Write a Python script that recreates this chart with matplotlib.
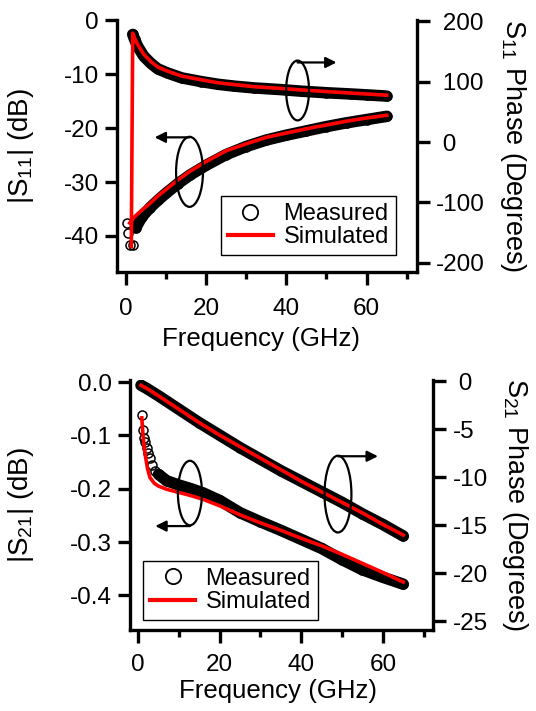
import numpy as np
import matplotlib
matplotlib.use("Agg")
import matplotlib.pyplot as plt
from matplotlib.patches import Ellipse
from matplotlib.lines import Line2D
from matplotlib.ticker import MultipleLocator, FuncFormatter

plt.rcParams["font.family"] = "Liberation Sans"
plt.rcParams["mathtext.fontset"] = "custom"
plt.rcParams["mathtext.rm"] = "Liberation Sans"
plt.rcParams["mathtext.it"] = "Liberation Sans:italic"
plt.rcParams["axes.unicode_minus"] = False
plt.rcParams["font.size"] = 17

# ---- S11 (top panel) ----
s11_mag_meas_f = [0.25, 0.5, 1.0, 1.75, 2.5, 4, 6, 8, 10, 13, 16, 20, 25, 30, 35, 40, 45, 50, 55, 60, 65]
s11_mag_meas = [-37.6, -39.5, -41.7, -41.7, -38.5, -36.5, -34.8, -33.4, -32.1, -30.3, -28.7, -26.9,
                -24.9, -23.4, -22.2, -21.3, -20.5, -19.7, -19.0, -18.4, -17.8]
s11_mag_sim_f = [1, 2, 4, 6, 8, 10, 13, 16, 20, 25, 30, 35, 40, 45, 50, 55, 60, 65]
s11_mag_sim = [-37.6, -36.6, -35.2, -34.0, -32.6, -31.4, -29.6, -28.0, -26.2, -24.2, -22.9, -21.7,
               -20.9, -20.1, -19.4, -18.7, -18.1, -17.6]

s11_ph_meas_f = [1.75, 2.2, 3, 4.5, 6.3, 8, 10.5, 14, 18.8, 23, 27, 32, 38, 44, 50, 56, 60, 65]
s11_ph_meas = [178, 170, 158, 142, 130, 121, 114, 106, 100, 95.5, 92.5, 89.5, 87, 84, 81.5, 79.5, 78, 76]
s11_ph_sim_f = [1.4, 1.75, 2.2, 3, 4.5, 6.3, 8, 10.5, 14, 18.8, 23, 27, 32, 38, 44, 50, 56, 60, 65]
s11_ph_sim = [-173, 180, 172, 161, 145, 133, 124, 117, 109, 103, 98, 95, 91.5, 89, 86, 83.5, 81, 79.5, 77.5]

# ---- S21 (bottom panel) ----
s21_mag_meas_f = [0.9, 1.3, 1.4, 1.6, 2.1, 2.5, 2.9, 3.5, 4.2, 5, 7, 10, 13, 16, 20, 25, 30, 35,
                  40, 45, 50, 55, 60, 65]
s21_mag_meas = [-0.061, -0.089, -0.104, -0.113, -0.123, -0.133, -0.142, -0.155, -0.166, -0.173,
                -0.185, -0.193, -0.200, -0.208, -0.222, -0.245, -0.262, -0.278, -0.295, -0.312,
                -0.333, -0.352, -0.366, -0.379]
s21_mag_sim_f = [0.9, 1.2, 1.7, 2.3, 2.9, 4, 5, 7, 10, 13, 16, 20, 25, 30, 35, 40, 45, 50, 55, 60, 65]
s21_mag_sim = [-0.067, -0.100, -0.135, -0.162, -0.179, -0.190, -0.195, -0.201, -0.207, -0.213,
               -0.220, -0.232, -0.249, -0.264, -0.278, -0.293, -0.307, -0.323, -0.340, -0.357, -0.375]

s21_ph_meas_f = [0.7, 2, 5, 10, 15, 20, 25, 30, 35, 40, 45, 50, 55, 60, 65]
s21_ph_meas = [-0.4, -0.7, -1.5, -2.9, -4.3, -5.6, -6.9, -8.1, -9.3, -10.4, -11.5, -12.6, -13.8, -14.9, -16.1]
s21_ph_sim_f = [0.7, 2, 5, 10, 15, 20, 25, 30, 35, 40, 45, 50, 55, 60, 65]
s21_ph_sim = [-0.4, -0.7, -1.5, -2.9, -4.3, -5.6, -6.8, -8.0, -9.2, -10.4, -11.5, -12.6, -13.7, -14.9, -16.0]

RED = "#ff0000"


def draw_meas(ax, f, y, f_band):
    f = np.asarray(f)
    y = np.asarray(y)
    band = f >= f_band
    ax.plot(f[band], y[band], "-", color="k", lw=8.3, solid_capstyle="round",
            solid_joinstyle="round", zorder=2)
    ax.plot(f, y, "o", mfc="none", mec="k", mew=1.1, ms=6.5, zorder=2)


def draw_sim(ax, f, y):
    ax.plot(f, y, "-", color=RED, lw=2.6, zorder=3)


def right_fmt(v, p):
    # igor-style: minus sign hangs left of the digits
    s = f"{v:g}"
    return s if s.startswith("-") else " " + s


def style(ax, ax2, xpad):
    for a in (ax, ax2):
        a.spines["top"].set_visible(False)
        for s in a.spines.values():
            s.set_linewidth(2.4)
        a.tick_params(which="major", direction="out", length=9, width=2.4, labelsize=17.5, pad=4)
        a.tick_params(which="minor", direction="out", length=5, width=2.4)
    ax.tick_params(axis="x", which="major", pad=xpad)
    ax2.tick_params(axis="y", which="major", pad=5)
    ax.spines["right"].set_visible(False)
    ax2.spines["left"].set_visible(False)
    ax2.spines["bottom"].set_visible(False)
    ax.xaxis.set_major_locator(MultipleLocator(20))
    ax.xaxis.set_minor_locator(MultipleLocator(10))
    ax2.yaxis.set_major_formatter(FuncFormatter(right_fmt))


def loop(ax, host, cx, cy, w, h, y_arrow, x_end):
    ax.add_patch(Ellipse((cx, cy), w, h, fill=False, lw=1.6, ec="k",
                         transform=host.transData, zorder=5))
    ax.annotate("", xy=(x_end, y_arrow), xytext=(cx, y_arrow), xycoords=host.transData,
                textcoords=host.transData,
                arrowprops=dict(arrowstyle="-|>", lw=1.6, color="k", mutation_scale=16,
                                shrinkA=0, shrinkB=0), zorder=5)


def legend(ax, x0, y0):
    handles = [Line2D([], [], ls="none", marker="o", mfc="white", mec="k", mew=1.3, ms=11),
               Line2D([], [], color=RED, lw=3)]
    leg = ax.legend(handles, ["Measured", "Simulated"], loc="lower left",
                    bbox_to_anchor=(x0, y0), borderaxespad=0, fancybox=False,
                    edgecolor="k", framealpha=1, fontsize=17, handlelength=1.9,
                    handletextpad=0.45, labelspacing=0.05, borderpad=0.3)
    leg.get_frame().set_linewidth(1.0)
    leg.set_zorder(6)


fig = plt.figure(figsize=(5.36, 7.11), dpi=100)

# top panel
ax1 = fig.add_axes([0.218, 0.6174, 0.5597, 0.3546])
ax1b = ax1.twinx()
draw_meas(ax1, s11_mag_meas_f, s11_mag_meas, 2.0)
draw_sim(ax1, s11_mag_sim_f, s11_mag_sim)
draw_meas(ax1b, s11_ph_meas_f, s11_ph_meas, 0)
draw_sim(ax1b, s11_ph_sim_f, s11_ph_sim)
ax1.set_xlim(-2.2, 72.5)
ax1.set_ylim(-46.7, 0.1)
ax1b.set_ylim(-215, 202)
ax1.yaxis.set_major_locator(MultipleLocator(10))
ax1b.yaxis.set_major_locator(MultipleLocator(100))
style(ax1, ax1b, 10)
ax1.set_ylabel(r"|S$_{11}$| (dB)", fontsize=20)
ax1b.set_ylabel(r"S$_{11}$ Phase (Degrees)", fontsize=19.5, rotation=270, va="center", ha="center")
ax1.set_xlabel("Frequency (GHz)", fontsize=18.6, va="top")
ax1.yaxis.set_label_coords(-0.27, 0.5)
ax1b.yaxis.set_label_coords(1.32, 0.5)
ax1.xaxis.set_label_coords(0.48, -0.218)
loop(ax1b, ax1, 15.9, -28.1, 6.7, 13.0, -21.7, 7.2)
loop(ax1b, ax1, 42.8, -13.0, 5.7, 11.1, -7.8, 52.5)
legend(ax1b, 0.347, 0.067)

# bottom panel
ax2 = fig.add_axes([0.2425, 0.1139, 0.5653, 0.3516])
ax2b = ax2.twinx()
draw_meas(ax2, s21_mag_meas_f, s21_mag_meas, 4.5)
draw_sim(ax2, s21_mag_sim_f, s21_mag_sim)
draw_meas(ax2b, s21_ph_meas_f, s21_ph_meas, 0)
draw_sim(ax2b, s21_ph_sim_f, s21_ph_sim)
ax2.set_xlim(-2.0, 72.3)
ax2.set_ylim(-0.465, 0.004)
ax2b.set_ylim(-25.9, 0.15)
ax2.yaxis.set_major_locator(MultipleLocator(0.1))
ax2.yaxis.set_major_formatter(FuncFormatter(lambda v, p: f"{v:.1f}"))
ax2b.yaxis.set_major_locator(MultipleLocator(5))
style(ax2, ax2b, 8)
ax2.set_ylabel(r"|S$_{21}$| (dB)", fontsize=20)
ax2b.set_ylabel(r"S$_{21}$ Phase (Degrees)", fontsize=19.5, rotation=270, va="center", ha="center")
ax2.set_xlabel("Frequency (GHz)", fontsize=18.6, va="top")
ax2.yaxis.set_label_coords(-0.31, 0.5)
ax2b.yaxis.set_label_coords(1.27, 0.5)
ax2.xaxis.set_label_coords(0.487, -0.195)
loop(ax2b, ax2, 12.7, -0.208, 5.9, 0.121, -0.27, 4.2)
loop(ax2b, ax2, 49.0, -0.210, 6.6, 0.144, -0.139, 58.8)
legend(ax2b, 0.043, 0.04)

fig.savefig("out.png", dpi=100)
